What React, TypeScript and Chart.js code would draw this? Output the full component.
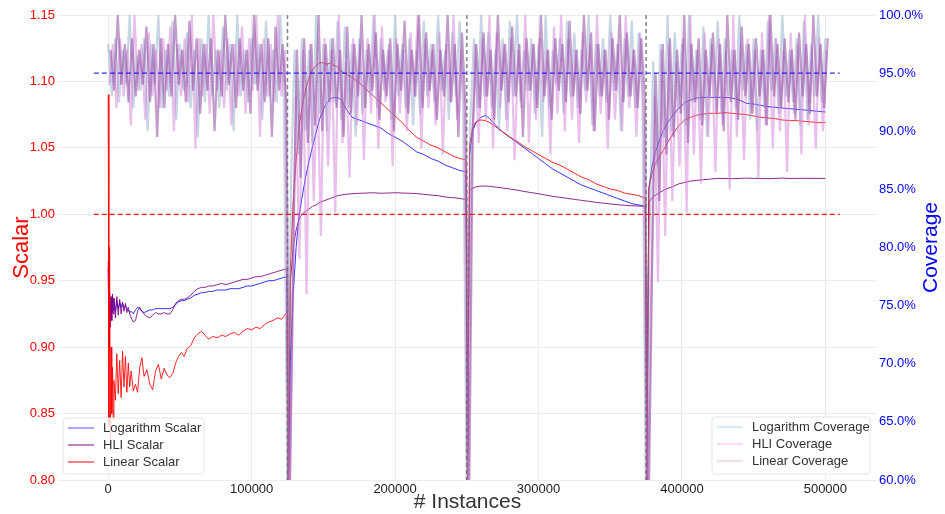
import React, { useEffect, useRef } from 'react';
import { Chart, registerables } from 'chart.js';

Chart.register(...registerables);

const FONT = "'Liberation Sans', Arial, Helvetica, sans-serif";

// ---- axis / reference values ----
const xTickValues = [0, 100000, 200000, 300000, 400000, 500000];
const resetPoints = [125000, 250000, 375000];
const scalarTarget = 1.0;
const coverageTarget = 95;
const targetSpan = [-10000, 510000];
const COVERAGE_STEP = 2500;
// each coverage series was logged at a slightly different instance offset
const logCoverageOffset = 0;
const hliCoverageOffset = 800;
const linearCoverageOffset = 1650;

// ---- scalar series (shared x positions) ----
const scalarX = [
  0, 500, 1000, 1500, 2000, 2500, 3000, 3500, 4000, 5000,
  6000, 7000, 8000, 9000, 10000, 11000, 12000, 13000, 14000, 15000,
  16000, 17500, 19000, 20500, 22000, 23500, 25000, 27000, 29000, 31000,
  33000, 35000, 37000, 39000, 41000, 43000, 45000, 47000, 49000, 51000,
  53000, 55000, 57500, 60000, 62500, 65000, 67500, 70000, 73000, 76000,
  79000, 82000, 85000, 88000, 91000, 94000, 97000, 100000, 103000, 106000,
  109000, 112000, 115000, 118000, 121000, 124500,
  125500, 127000, 129000, 131000, 133000, 135000, 137500, 140000, 142500, 145000,
  147500, 150000, 152500, 155000, 157500, 160000, 162500, 165000, 170000, 175000,
  180000, 185000, 190000, 195000, 200000, 205000, 210000, 215000, 220000, 225000,
  230000, 235000, 240000, 245000, 249500,
  250500, 252000, 254000, 256000, 258000, 260000, 263000, 266000, 270000, 275000,
  280000, 285000, 290000, 295000, 300000, 305000, 310000, 315000, 320000, 325000,
  330000, 335000, 340000, 345000, 350000, 355000, 360000, 365000, 370000, 374500,
  375500, 377000, 379000, 381000, 384000, 387000, 390000, 394000, 398000, 402000,
  406000, 410000, 415000, 420000, 425000, 430000, 435000, 440000, 445000, 450000,
  455000, 460000, 465000, 470000, 475000, 480000, 485000, 490000, 495000, 500000,
];

const logScalar = [
  0.96, 0.915, 0.94, 0.922, 0.937, 0.926, 0.938, 0.928, 0.936, 0.927,
  0.935, 0.929, 0.934, 0.93, 0.933, 0.93, 0.931, 0.929, 0.928, 0.926,
  0.927, 0.925, 0.928, 0.93, 0.929, 0.927, 0.926, 0.927, 0.928, 0.928,
  0.929, 0.929, 0.929, 0.929, 0.929, 0.929, 0.93, 0.932, 0.934, 0.935,
  0.935, 0.936, 0.937, 0.939, 0.94, 0.941, 0.941, 0.942, 0.942, 0.943,
  0.943, 0.943, 0.944, 0.944, 0.944, 0.945, 0.946, 0.946, 0.947, 0.948,
  0.949, 0.95, 0.95, 0.951, 0.952, 0.953,
  0.78, 0.89, 0.94, 0.975, 0.998, 1.012, 1.027, 1.04, 1.051, 1.062,
  1.072, 1.079, 1.084, 1.087, 1.088, 1.088, 1.086, 1.081, 1.073, 1.071,
  1.069, 1.067, 1.065, 1.061, 1.058, 1.055, 1.051, 1.047, 1.045, 1.042,
  1.04, 1.037, 1.035, 1.033, 1.032,
  0.8, 1.045, 1.062, 1.068, 1.071, 1.073, 1.0745, 1.072, 1.067, 1.062,
  1.058, 1.054, 1.05, 1.046, 1.042, 1.038, 1.034, 1.031, 1.028, 1.025,
  1.022, 1.02, 1.018, 1.016, 1.014, 1.012, 1.01, 1.008, 1.007, 1.006,
  0.8, 1.02, 1.035, 1.045, 1.055, 1.063, 1.069, 1.075, 1.08, 1.084,
  1.086, 1.0875, 1.088, 1.088, 1.088, 1.088, 1.0875, 1.086, 1.0835, 1.083,
  1.082, 1.081, 1.0805, 1.08, 1.0795, 1.079, 1.0785, 1.078, 1.0775, 1.077,
];

const hliScalar = [
  0.965, 0.9, 0.94, 0.915, 0.938, 0.92, 0.94, 0.925, 0.937, 0.922,
  0.938, 0.924, 0.936, 0.925, 0.934, 0.927, 0.933, 0.926, 0.93, 0.925,
  0.922, 0.919, 0.92, 0.927, 0.93, 0.927, 0.925, 0.923, 0.922, 0.924,
  0.926, 0.925, 0.925, 0.926, 0.925, 0.925, 0.928, 0.933, 0.935, 0.936,
  0.936, 0.937, 0.939, 0.942, 0.944, 0.945, 0.945, 0.946, 0.946, 0.947,
  0.948, 0.947, 0.948, 0.949, 0.95, 0.951, 0.951, 0.952, 0.953, 0.953,
  0.954, 0.955, 0.956, 0.957, 0.958, 0.959,
  0.78, 0.95, 0.975, 0.988, 0.996, 1.0, 1.002, 1.004, 1.006, 1.007,
  1.009, 1.01, 1.011, 1.012, 1.013, 1.014, 1.0145, 1.015, 1.0155, 1.0158,
  1.016, 1.0162, 1.0158, 1.016, 1.0162, 1.016, 1.0158, 1.0156, 1.015, 1.0145,
  1.014, 1.013, 1.0125, 1.012, 1.011,
  0.8, 1.018, 1.0195, 1.0205, 1.021, 1.0212, 1.0213, 1.021, 1.0205, 1.0198,
  1.019, 1.0182, 1.0172, 1.0163, 1.0155, 1.0145, 1.0135, 1.0127, 1.012, 1.0112,
  1.0105, 1.0098, 1.009, 1.0084, 1.0078, 1.0072, 1.0068, 1.0064, 1.0062, 1.006,
  0.8, 1.009, 1.012, 1.014, 1.016, 1.018, 1.0195, 1.021, 1.023, 1.024,
  1.025, 1.0255, 1.026, 1.0265, 1.027, 1.027, 1.0268, 1.027, 1.0272, 1.027,
  1.027, 1.0268, 1.027, 1.0272, 1.027, 1.027, 1.0271, 1.027, 1.027, 1.027,
];

const linearScalar = [
  1.09, 0.84, 0.975, 0.83, 0.9, 0.85, 0.885, 0.845, 0.875, 0.86,
  0.895, 0.865, 0.89, 0.862, 0.897, 0.87, 0.893, 0.866, 0.888, 0.87,
  0.882, 0.867, 0.872, 0.866, 0.885, 0.892, 0.878, 0.883, 0.872, 0.868,
  0.882, 0.887, 0.876, 0.884, 0.879, 0.877, 0.88, 0.888, 0.893, 0.896,
  0.893, 0.899, 0.901, 0.907, 0.91, 0.912, 0.909, 0.906, 0.908, 0.907,
  0.909, 0.908, 0.91, 0.911, 0.909, 0.912, 0.914, 0.913, 0.915, 0.914,
  0.917, 0.919, 0.92, 0.922, 0.921, 0.926,
  0.78, 0.96, 1.01, 1.04, 1.065, 1.08, 1.093, 1.103, 1.109, 1.112,
  1.114, 1.114, 1.113, 1.114, 1.112, 1.111, 1.108, 1.106, 1.103, 1.099,
  1.094, 1.089, 1.084, 1.079, 1.074, 1.069, 1.063, 1.058, 1.055, 1.052,
  1.05, 1.047, 1.044, 1.042, 1.041,
  0.8, 1.052, 1.065, 1.069, 1.0705, 1.071, 1.0705, 1.069, 1.066, 1.062,
  1.058, 1.055, 1.051, 1.048, 1.045, 1.042, 1.039, 1.037, 1.034, 1.031,
  1.028, 1.026, 1.023, 1.021, 1.019, 1.018, 1.016, 1.015, 1.014, 1.012,
  0.8, 1.02, 1.03, 1.037, 1.043, 1.048, 1.054, 1.061, 1.067, 1.071,
  1.073, 1.0745, 1.0755, 1.076, 1.076, 1.0765, 1.076, 1.0755, 1.075, 1.074,
  1.073, 1.0725, 1.072, 1.071, 1.0705, 1.0705, 1.07, 1.0695, 1.069, 1.069,
];

// ---- coverage series (percent), sampled every COVERAGE_STEP instances ----
const logCoverage = [
  97.5, 93, 98, 92.5, 97, 94, 100, 92, 96.5, 93.5,
  98, 90, 97.5, 94, 100, 92, 97, 93, 99.5, 91,
  97.5, 93.5, 98.5, 92, 97, 89.5, 98, 92.5, 100, 93,
  97, 92, 99, 93.5, 97.5, 90, 100, 93, 97, 92.5,
  98, 94, 97.5, 91, 99.5, 93, 97, 92.5, 100, 93,
  58, 86, 97, 88, 98, 90, 97, 89, 100, 91.5,
  97.5, 90, 98, 92.5, 99.5, 91, 99, 92, 97.5, 89.5,
  98, 91.5, 97, 93, 100, 92, 98, 93.5, 97, 91,
  100, 93, 97.5, 92, 98, 90.5, 97, 91.5, 99.5, 93,
  97.5, 92.5, 100, 93.5, 97, 91, 98.5, 93, 99.5, 92,
  58, 91, 98, 92, 100, 93, 98.5, 92, 97, 90,
  98, 91, 99.5, 93, 100, 92.5, 97, 93.5, 98, 91.5,
  97.5, 89.5, 100, 92, 97, 94, 98, 91.5, 99.5, 93,
  98.5, 92, 97, 93.5, 100, 90.5, 97.5, 93, 98, 92.5,
  100, 93.5, 97.5, 90, 98, 93, 99.5, 92, 98.5, 93,
  56, 82, 96, 87, 97.5, 89.5, 100, 90, 98.5, 92,
  97.5, 90.5, 100, 92.5, 97, 91, 99, 89.5, 98, 93,
  99.5, 91.5, 98, 93, 97, 92, 100, 93.5, 97.5, 91,
  98, 90, 97, 92, 99.5, 93.5, 98, 91.5, 100, 93,
  97, 92.5, 98, 90.5, 99.5, 91, 97.5, 93, 100, 92.5,
  98,
];

const hliCoverage = [
  94, 97.5, 92, 98, 93, 97, 90.5, 100, 93.5, 97.5,
  91, 98.5, 93, 97, 92, 98, 93.5, 99, 90, 97.5,
  93, 98, 92.5, 100, 88.5, 98, 93, 97.5, 91.5, 100,
  93.5, 97, 92, 98, 90.5, 97.5, 93, 99, 91.5, 98,
  93.5, 100, 89.5, 98, 93, 97.5, 92.5, 100, 93, 97,
  57, 71, 93, 79, 97, 76, 97.5, 84, 95, 81,
  98, 87, 97, 83, 100, 89, 96, 86, 98, 90.5,
  97.5, 87.5, 98, 91.5, 100, 88.5, 99, 92.5, 97.5, 87,
  98, 91.5, 97, 90, 98.5, 93, 100, 88.5, 98, 92,
  97, 90.5, 98.5, 88, 97.5, 92.5, 100, 91, 97, 92,
  57, 86, 97.5, 89, 98, 91, 100, 88.5, 98.5, 92,
  97.5, 90, 98, 87.5, 97, 92, 100, 89, 97.5, 91,
  98, 92.5, 97, 88, 99, 91.5, 100, 90, 98, 91,
  97, 89, 98.5, 92.5, 97.5, 90, 100, 91.5, 97, 88.5,
  98.5, 91, 97.5, 90, 100, 92, 97, 89.5, 98.5, 91,
  55, 74, 93, 77, 97, 81, 97.5, 84, 96, 87,
  98, 83, 100, 88, 97, 85.5, 98.5, 89.5, 97.5, 86.5,
  98, 90.5, 97, 85, 100, 89.5, 97.5, 87.5, 98, 91.5,
  97, 86, 98.5, 90.5, 100, 88.5, 98, 90, 97, 86.5,
  98.5, 91.5, 97.5, 88, 100, 90.5, 97, 88.5, 98, 90,
  97,
];

const linearCoverage = [
  97, 93.5, 100, 94, 97.5, 92.5, 98, 93, 97, 94,
  99, 92.5, 97.5, 89.5, 98, 92, 97.5, 93, 100, 94,
  97, 92.5, 99.5, 93.5, 98, 91.5, 97.5, 93.5, 98, 90,
  97, 93, 100, 94, 97.5, 92, 98, 93.5, 97, 91.5,
  100, 93.5, 97.5, 92.5, 98, 89.5, 99, 93.5, 97.5, 92.5,
  58, 82, 97, 86, 98, 89, 97.5, 90.5, 100, 90,
  97.5, 92.5, 98, 92, 97, 89.5, 99, 91.5, 97.5, 93,
  100, 92, 97.5, 93.5, 98.5, 91, 97, 93, 98, 90,
  97.5, 93.5, 99.5, 91.5, 97, 93, 100, 92, 98.5, 93.5,
  97.5, 91, 97, 93, 100, 92.5, 97.5, 89.5, 98.5, 92,
  58, 90, 97.5, 92, 98.5, 93, 97, 91, 100, 93.5,
  97.5, 92.5, 99, 93, 97.5, 89.5, 98, 93.5, 97.5, 92,
  100, 93, 97, 91, 98, 93.5, 97.5, 92.5, 99.5, 93,
  97, 91.5, 100, 93.5, 98.5, 90, 97.5, 93, 97, 91,
  98, 93.5, 100, 92.5, 98.5, 93, 97, 92, 98, 93,
  56, 78, 95, 84, 97.5, 88, 98, 89.5, 97, 91.5,
  100, 89, 97.5, 92.5, 98, 90.5, 97, 93, 98.5, 91.5,
  97.5, 90, 100, 92.5, 97, 91, 99, 93, 97.5, 91.5,
  98, 93, 97, 90.5, 100, 93, 97.5, 92, 98, 92.5,
  97, 91, 98.5, 93, 97.5, 91.5, 100, 93, 97.5, 92,
  98,
];

const scalarLegend = [
  { label: 'Logarithm Scalar', color: 'rgba(120,120,255,0.85)' },
  { label: 'HLI Scalar', color: 'rgba(150,60,160,0.85)' },
  { label: 'Linear Scalar', color: 'rgba(255,70,70,0.9)' },
];
const coverageLegend = [
  { label: 'Logarithm Coverage', color: 'rgba(200,228,245,1)' },
  { label: 'HLI Coverage', color: 'rgba(250,205,245,1)' },
  { label: 'Linear Coverage', color: 'rgba(236,214,224,1)' },
];

const toPoints = (xs: number[], ys: number[]) => ys.map((y, i) => ({ x: xs[i], y }));
const coverageXs = (values: number[], offset: number) => values.map((_, i) => i * COVERAGE_STEP + offset);

function drawLegend(ctx: CanvasRenderingContext2D, left: number, top: number, width: number, height: number, items: { label: string; color: string }[]) {
  ctx.save();
  ctx.setLineDash([]);
  ctx.beginPath();
  const r = 3;
  ctx.moveTo(left + r, top);
  ctx.lineTo(left + width - r, top);
  ctx.quadraticCurveTo(left + width, top, left + width, top + r);
  ctx.lineTo(left + width, top + height - r);
  ctx.quadraticCurveTo(left + width, top + height, left + width - r, top + height);
  ctx.lineTo(left + r, top + height);
  ctx.quadraticCurveTo(left, top + height, left, top + height - r);
  ctx.lineTo(left, top + r);
  ctx.quadraticCurveTo(left, top, left + r, top);
  ctx.closePath();
  ctx.fillStyle = 'rgba(255,255,255,0.82)';
  ctx.fill();
  ctx.strokeStyle = '#e4e4e4';
  ctx.lineWidth = 1;
  ctx.stroke();
  items.forEach((it, i) => {
    const y = top + 10 + i * 17;
    ctx.strokeStyle = it.color;
    ctx.lineWidth = 1.5;
    ctx.beginPath();
    ctx.moveTo(left + 5, y);
    ctx.lineTo(left + 31, y);
    ctx.stroke();
    ctx.fillStyle = '#333';
    ctx.font = `13px ${FONT}`;
    ctx.textAlign = 'left';
    ctx.textBaseline = 'middle';
    ctx.fillText(it.label, left + 40, y);
  });
  ctx.restore();
}

const overlayPlugin = {
  id: 'overlay',
  afterDatasetsDraw(chart: any) {
    const { ctx, chartArea, scales } = chart;
    const xs = scales.x;
    const yl = scales.yScalar;
    const yr = scales.yCoverage;
    ctx.save();
    // reset markers
    ctx.strokeStyle = 'rgba(110,110,110,0.85)';
    ctx.lineWidth = 1.5;
    ctx.setLineDash([4, 3]);
    resetPoints.forEach((p) => {
      const px = xs.getPixelForValue(p);
      ctx.beginPath();
      ctx.moveTo(px, chartArea.top);
      ctx.lineTo(px, chartArea.bottom);
      ctx.stroke();
    });
    // target lines
    const x0 = xs.getPixelForValue(targetSpan[0]);
    const x1 = xs.getPixelForValue(targetSpan[1]);
    ctx.setLineDash([5, 3]);
    ctx.lineWidth = 1.3;
    ctx.strokeStyle = 'rgba(255,0,0,0.9)';
    const ys = yl.getPixelForValue(scalarTarget);
    ctx.beginPath();
    ctx.moveTo(x0, ys);
    ctx.lineTo(x1, ys);
    ctx.stroke();
    ctx.strokeStyle = 'rgba(0,0,255,0.8)';
    const yc = yr.getPixelForValue(coverageTarget);
    ctx.beginPath();
    ctx.moveTo(x0, yc);
    ctx.lineTo(x1, yc);
    ctx.stroke();
    ctx.restore();

    drawLegend(ctx, chartArea.left + 5, chartArea.bottom - 62, 141, 56, scalarLegend);
    drawLegend(ctx, chartArea.right - 165, chartArea.bottom - 63, 158, 57, coverageLegend);
  },
  afterDraw(chart: any) {
    const { ctx, chartArea } = chart;
    ctx.save();
    ctx.textAlign = 'center';
    ctx.textBaseline = 'middle';
    const midY = (chartArea.top + chartArea.bottom) / 2;
    ctx.font = `22px ${FONT}`;
    ctx.fillStyle = '#ff0000';
    ctx.translate(22, midY);
    ctx.rotate(-Math.PI / 2);
    ctx.fillText('Scalar', 0, 0);
    ctx.restore();

    ctx.save();
    ctx.textAlign = 'center';
    ctx.textBaseline = 'middle';
    ctx.font = `21px ${FONT}`;
    ctx.fillStyle = '#0000ff';
    ctx.translate(931, midY);
    ctx.rotate(-Math.PI / 2);
    ctx.fillText('Coverage', 0, 0);
    ctx.restore();

    ctx.save();
    ctx.textAlign = 'center';
    ctx.textBaseline = 'middle';
    ctx.font = `21px ${FONT}`;
    ctx.fillStyle = '#333';
    ctx.fillText('# Instances', (chartArea.left + chartArea.right) / 2, 502);
    ctx.restore();
  },
};

export default function App() {
  const ref = useRef<HTMLCanvasElement>(null);
  useEffect(() => {
    document.body.style.margin = '0';
    Chart.defaults.font.family = FONT;
    const line = (label: string, data: any[], color: string, axis: string, order: number, width: number) => ({
      label,
      data,
      borderColor: color,
      backgroundColor: color,
      borderWidth: width,
      pointRadius: 0,
      tension: 0,
      fill: false,
      yAxisID: axis,
      order,
    });
    const chart = new Chart(ref.current!, {
      type: 'line',
      data: {
        datasets: [
          line('Linear Coverage', toPoints(coverageXs(linearCoverage, linearCoverageOffset), linearCoverage), 'rgba(150,85,165,0.58)', 'yCoverage', 1, 2.2),
          line('HLI Coverage', toPoints(coverageXs(hliCoverage, hliCoverageOffset), hliCoverage), 'rgba(210,130,215,0.5)', 'yCoverage', 2, 2.2),
          line('Logarithm Coverage', toPoints(coverageXs(logCoverage, logCoverageOffset), logCoverage), 'rgba(130,165,195,0.45)', 'yCoverage', 3, 2.2),
          line('Linear Scalar', toPoints(scalarX, linearScalar), 'rgba(255,0,0,0.85)', 'yScalar', 4, 1),
          line('HLI Scalar', toPoints(scalarX, hliScalar), 'rgba(128,0,128,0.85)', 'yScalar', 5, 1),
          line('Logarithm Scalar', toPoints(scalarX, logScalar), 'rgba(0,0,255,0.8)', 'yScalar', 6, 1),
        ],
      },
      options: {
        responsive: false,
        animation: false,
        layout: { padding: { top: 15, left: 0, right: 0, bottom: 0 } },
        plugins: { legend: { display: false }, tooltip: { enabled: false } },
        scales: {
          x: {
            type: 'linear',
            min: -35000,
            max: 536000,
            afterBuildTicks: (s: any) => {
              s.ticks = xTickValues.map((v) => ({ value: v }));
            },
            afterFit: (s: any) => {
              s.height = 34;
            },
            ticks: {
              color: '#222',
              font: { size: 13, family: FONT },
              padding: 2,
              maxRotation: 0,
              callback: (v: any) => String(v),
            },
            grid: { color: '#ececec', drawTicks: false },
            border: { display: false },
          },
          yScalar: {
            type: 'linear',
            position: 'left',
            min: 0.8,
            max: 1.15,
            ticks: {
              stepSize: 0.05,
              color: '#ff0000',
              font: { size: 13, family: FONT },
              padding: 3,
              callback: (v: any) => Number(v).toFixed(2),
            },
            afterFit: (s: any) => {
              s.width = 58;
            },
            grid: { color: '#ececec', drawTicks: false },
            border: { display: false },
          },
          yCoverage: {
            type: 'linear',
            position: 'right',
            min: 60,
            max: 100,
            ticks: {
              stepSize: 5,
              color: '#0000ff',
              font: { size: 13, family: FONT },
              padding: 2,
              callback: (v: any) => `${Number(v).toFixed(1)}%`,
            },
            afterFit: (s: any) => {
              s.width = 68;
            },
            grid: { display: false, drawTicks: false },
            border: { display: false },
          },
        },
      },
      plugins: [overlayPlugin],
    } as any);
    return () => chart.destroy();
  }, []);
  return (
    <div style={{ width: 945, height: 514, position: 'relative', background: '#fff' }}>
      <canvas ref={ref} width={945} height={514} style={{ display: 'block' }} />
    </div>
  );
}
